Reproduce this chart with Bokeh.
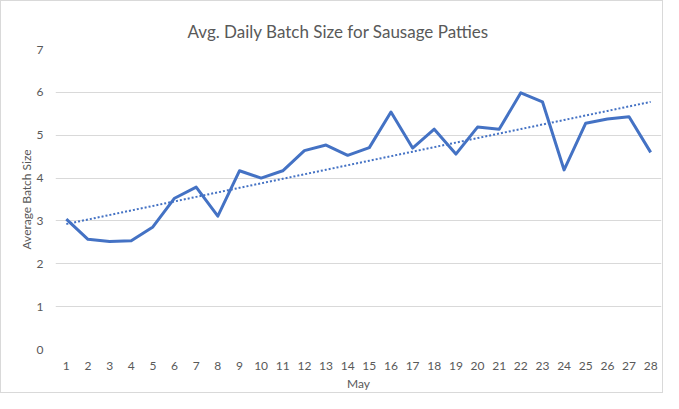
import numpy as np
from bokeh.plotting import figure
from bokeh.models import Range1d, FixedTicker, ColumnDataSource
from bokeh.embed import file_html
from bokeh.resources import INLINE

days = list(range(1, 29))
batch_size = [3.04, 2.57, 2.52, 2.54, 2.86, 3.53, 3.79, 3.11, 4.17, 4.00,
              4.17, 4.64, 4.77, 4.53, 4.71, 5.54, 4.70, 5.14, 4.56, 5.19,
              5.14, 5.99, 5.78, 4.19, 5.28, 5.38, 5.43, 4.60]
y_ticks = [0, 1, 2, 3, 4, 5, 6, 7]

# linear trendline (least squares fit of the series)
slope, intercept = np.polyfit(days, batch_size, 1)
trend = [slope * d + intercept for d in days]

FONT = "Lato"
GREY = "#595959"
BLUE = "#4472C4"

p = figure(width=663, height=393, output_backend="svg", toolbar_location=None,
           x_range=Range1d(0.5, 28.5), y_range=Range1d(0, 7),
           title="Avg. Daily Batch Size for Sausage Patties",
           min_border_left=54, min_border_right=3, min_border_top=48,
           min_border_bottom=45)
p.outline_line_color = None
p.background_fill_color = "white"
p.border_fill_color = "white"
p.styles = {"border": "1px solid #d9d9d9"}

p.title.align = "left"
p.title.offset = 132
p.title.vertical_align = "top"
p.title.standoff = 12
p.title.text_font = FONT
p.title.text_font_size = "17px"
p.title.text_font_style = "normal"
p.title.text_color = GREY

src = ColumnDataSource(dict(day=days, val=batch_size, trend=trend))
p.line("day", "val", source=src, line_color=BLUE, line_width=3, line_join="round")
p.line("day", "trend", source=src, line_color=BLUE, line_width=2, line_dash="2 2")

p.xaxis.ticker = FixedTicker(ticks=days)
p.yaxis.ticker = FixedTicker(ticks=y_ticks)
p.xaxis.axis_label = "May"
p.yaxis.axis_label = "Average Batch Size"
for ax in (p.xaxis, p.yaxis):
    ax.axis_line_color = None
    ax.major_tick_line_color = None
    ax.minor_tick_line_color = None
    ax.major_label_text_font = FONT
    ax.major_label_text_font_size = "12px"
    ax.major_label_text_color = GREY
    ax.axis_label_text_font = FONT
    ax.axis_label_text_font_size = "12px"
    ax.axis_label_text_font_style = "normal"
    ax.axis_label_text_color = GREY
p.yaxis.major_label_standoff = 6
p.xaxis.major_label_standoff = 6
p.xaxis.axis_label_standoff = 3
p.yaxis.axis_label_standoff = 0

p.xgrid.grid_line_color = None
p.ygrid.grid_line_color = "#d9d9d9"
p.ygrid.grid_line_width = 1

open("out.html", "w").write(file_html(p, INLINE))
